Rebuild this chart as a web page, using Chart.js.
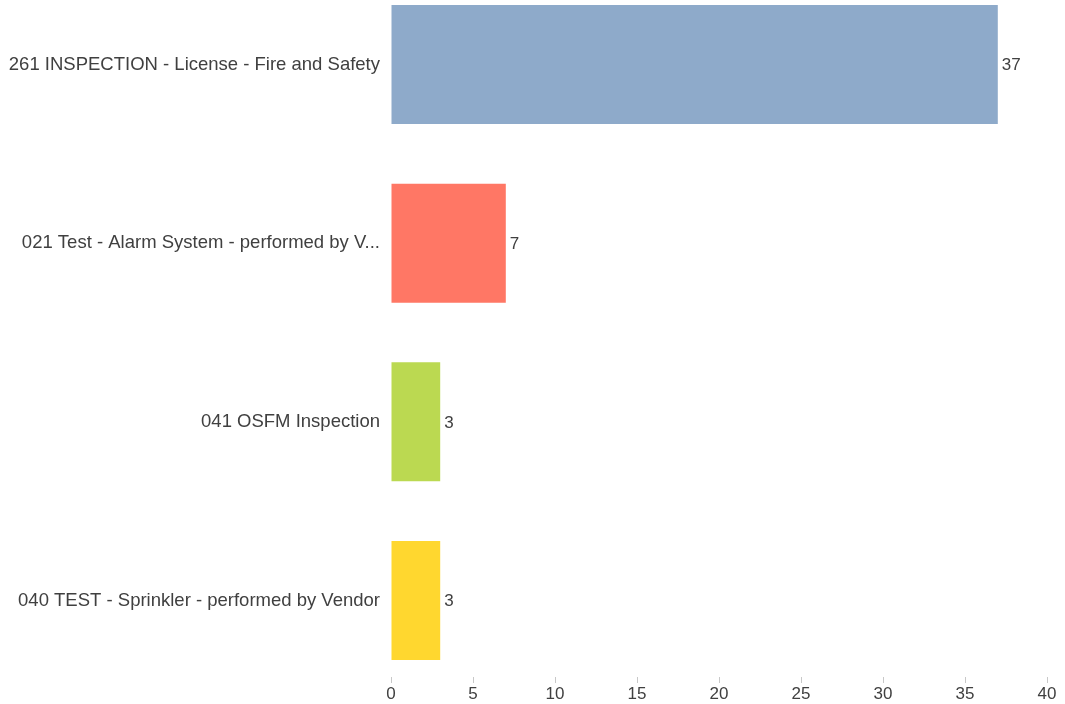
<!DOCTYPE html>
<html>
<head>
<meta charset="utf-8">
<script src="https://cdn.jsdelivr.net/npm/chart.js@4"></script>
<style>
  html, body { margin: 0; padding: 0; background: #fff; }
  #wrap { width: 1065px; height: 704px; }
</style>
</head>
<body>
<div id="wrap"><canvas id="chart"></canvas></div>
<script>
const categories = [
    '261 INSPECTION - License - Fire and Safety',
    '021 Test - Alarm System - performed by V...',
    '041 OSFM Inspection',
    '040 TEST - Sprinkler - performed by Vendor'
];
const counts = [37, 7, 3, 3];
const barColors = ['#8eaaca', '#ff7765', '#bbd951', '#ffd72f'];
const xTicks = [0, 5, 10, 15, 20, 25, 30, 35, 40];

const FONT = "'Liberation Sans', Arial, sans-serif";
const TEXT = '#404040';

// value labels at the end of each bar
const valueLabels = {
    id: 'valueLabels',
    afterDatasetsDraw(chart) {
        const ctx = chart.ctx;
        const meta = chart.getDatasetMeta(0);
        ctx.save();
        ctx.font = '17px ' + FONT;
        ctx.fillStyle = TEXT;
        ctx.textAlign = 'left';
        ctx.textBaseline = 'middle';
        meta.data.forEach((bar, i) => {
            ctx.fillText(String(counts[i]), bar.x + 4, bar.y + 1);
        });
        ctx.restore();
    }
};

new Chart(document.getElementById('chart').getContext('2d'), {
    type: 'bar',
    data: {
        datasets: [{
            data: counts.map((v, i) => ({ x: v, y: i })),
            backgroundColor: barColors,
            borderWidth: 0,
            categoryPercentage: 1,
            barPercentage: 0.666
        }]
    },
    options: {
        indexAxis: 'y',
        responsive: true,
        maintainAspectRatio: false,
        animation: false,
        layout: { padding: { top: 0, right: 18, bottom: 0, left: 0 } },
        plugins: { legend: { display: false }, tooltip: { enabled: false } },
        scales: {
            x: {
                type: 'linear',
                min: 0,
                max: 40,
                afterBuildTicks: s => { s.ticks = xTicks.map(v => ({ value: v })); },
                afterFit: s => { s.height = 27; },
                border: { display: false },
                grid: { drawOnChartArea: false, drawTicks: true, tickLength: 6, color: '#c8c8c8' },
                ticks: { color: TEXT, font: { family: FONT, size: 17 }, padding: 1, maxRotation: 0 }
            },
            y: {
                type: 'linear',
                offset: false,
                reverse: true,
                min: -0.361,
                max: 3.428,
                afterBuildTicks: s => { s.ticks = categories.map((c, i) => ({ value: i })); },
                afterFit: s => { s.width = 391; s.paddingTop = 0; s.paddingBottom = 0; },
                border: { display: false },
                grid: { display: false, drawTicks: false, offset: false },
                ticks: {
                    autoSkip: false,
                    color: TEXT,
                    font: { family: FONT, size: 18.5 },
                    padding: 11,
                    callback: v => categories[v]
                }
            }
        }
    },
    plugins: [valueLabels]
});
</script>
</body>
</html>
